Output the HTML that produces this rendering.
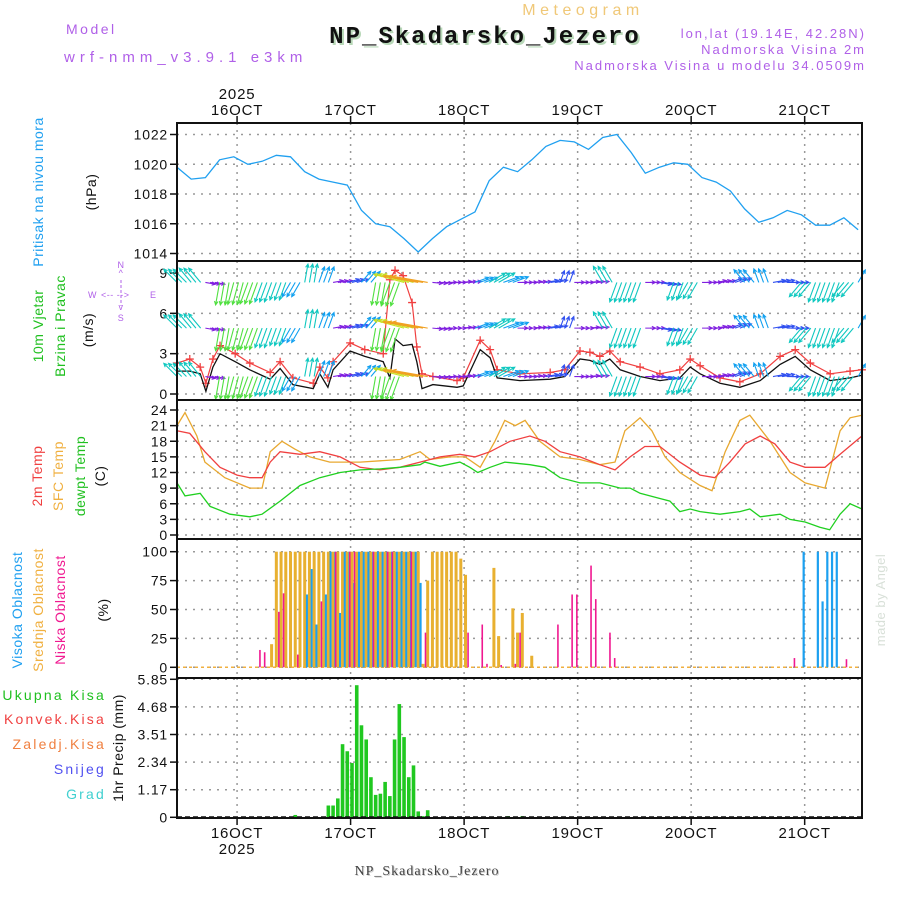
<!DOCTYPE html>
<html><head><meta charset="utf-8"><style>
html,body{margin:0;padding:0;background:#fff;}
svg{display:block;font-family:"Liberation Sans",sans-serif;}
</style></head><body>
<svg id="chart" xmlns="http://www.w3.org/2000/svg" width="900" height="900" viewBox="0 0 900 900">
<rect width="900" height="900" fill="#fff"/>
<g>
<text x="583" y="15" font-size="16" fill="#f0c878" text-anchor="middle" letter-spacing="4.5">Meteogram</text>
<text x="487" y="45" font-size="24" font-weight="bold" font-family="Liberation Mono,monospace" fill="#b8d8b8" text-anchor="middle" letter-spacing="2">NP_Skadarsko_Jezero</text>
<text x="485" y="43" font-size="24" font-weight="bold" font-family="Liberation Mono,monospace" fill="#111" text-anchor="middle" letter-spacing="2">NP_Skadarsko_Jezero</text>
<text x="66" y="34" font-size="14" fill="#b060e8" letter-spacing="2.5">Model</text>
<text x="64" y="62" font-size="15" fill="#b060e8" letter-spacing="5">wrf-nmm_v3.9.1 e3km</text>
<text x="866" y="38" font-size="13" fill="#b060e8" text-anchor="end" letter-spacing="2">lon,lat (19.14E, 42.28N)</text>
<text x="866" y="54" font-size="13" fill="#b060e8" text-anchor="end" letter-spacing="2">Nadmorska Visina 2m</text>
<text x="866" y="70" font-size="13" fill="#b060e8" text-anchor="end" letter-spacing="2">Nadmorska Visina u modelu 34.0509m</text>
</g>
<g font-size="14" letter-spacing="0.5">
<text transform="translate(43,192) rotate(-90)" text-anchor="middle" fill="#20a0f0">Pritisak na nivou mora</text>
<text transform="translate(96,192) rotate(-90)" text-anchor="middle" fill="#111">(hPa)</text>
<text transform="translate(43,326) rotate(-90)" text-anchor="middle" fill="#20c020">10m Vjetar</text>
<text transform="translate(65,326) rotate(-90)" text-anchor="middle" fill="#20c020">Brzina i Pravac</text>
<text transform="translate(93,330) rotate(-90)" text-anchor="middle" fill="#111">(m/s)</text>
<g fill="#b060e8" font-size="9">
<text x="121" y="268" text-anchor="middle">N</text><text x="121" y="276" text-anchor="middle">^</text>
<text x="88" y="298">W</text><text x="101" y="298">&lt;-- --&gt;</text><text x="150" y="298">E</text>
<text x="121" y="310" text-anchor="middle">v</text><text x="121" y="321" text-anchor="middle">S</text>
<line x1="121" y1="280" x2="121" y2="306" stroke="#b060e8" stroke-dasharray="3,2"/>
</g>
<text transform="translate(42,476) rotate(-90)" text-anchor="middle" fill="#f04040">2m Temp</text>
<text transform="translate(63,476) rotate(-90)" text-anchor="middle" fill="#f0b040">SFC Temp</text>
<text transform="translate(85,476) rotate(-90)" text-anchor="middle" fill="#20c020">dewpt Temp</text>
<text transform="translate(105,476) rotate(-90)" text-anchor="middle" fill="#111">(C)</text>
<text transform="translate(22,610) rotate(-90)" text-anchor="middle" fill="#20a0f0">Visoka Oblacnost</text>
<text transform="translate(43,610) rotate(-90)" text-anchor="middle" fill="#f0b040">Srednja Oblacnost</text>
<text transform="translate(65,610) rotate(-90)" text-anchor="middle" fill="#f01890">Niska Oblacnost</text>
<text transform="translate(108,610) rotate(-90)" text-anchor="middle" fill="#111">(%)</text>
<g letter-spacing="2.2">
<text x="106" y="700" text-anchor="end" fill="#20c020">Ukupna  Kisa</text>
<text x="106" y="724" text-anchor="end" fill="#f04040">Konvek.Kisa</text>
<text x="106" y="749" text-anchor="end" fill="#f08040">Zaledj.Kisa</text>
<text x="106" y="774" text-anchor="end" fill="#5050f0">Snijeg</text>
<text x="106" y="799" text-anchor="end" fill="#40d0d0">Grad</text>
</g>
<text transform="translate(123,748) rotate(-90)" text-anchor="middle" fill="#111">1hr Precip (mm)</text>
<text transform="translate(885,600) rotate(-90)" text-anchor="middle" fill="#d8e0d8" font-size="13">made by Angel</text>
</g>
<text x="428" y="876" font-size="14" font-family="Liberation Serif,serif" fill="#ccc" text-anchor="middle" letter-spacing="1">NP_Skadarsko_Jezero</text>
<text x="427" y="875" font-size="14" font-family="Liberation Serif,serif" fill="#444" text-anchor="middle" letter-spacing="1">NP_Skadarsko_Jezero</text>
<g id="plots"></g>
</svg>
<script>
// ---- data ----
const dayLabels = ["16OCT","17OCT","18OCT","19OCT","20OCT","21OCT"];
const dayHours = [12.7,36.7,60.7,84.7,108.7,132.7];
const presHours = [0,3,6,9,12,15,18,21,24,27,30,33,36,39,42,45,48,51,54,57,60,63,66,69,72,75,78,81,84,87,90,93,96,99,102,105,108,111,114,117,120,123,126,129,132,135,138,141,144];
const presVals = [1019.8,1019.0,1019.1,1020.3,1020.5,1020.0,1020.2,1020.6,1020.5,1019.5,1019.0,1018.8,1018.6,1016.9,1016.0,1015.8,1015.0,1014.1,1015.0,1015.8,1016.3,1016.8,1018.9,1019.8,1019.5,1020.3,1021.2,1021.6,1021.5,1021.0,1021.8,1022.0,1020.8,1019.4,1019.8,1020.1,1020.0,1019.1,1018.8,1018.2,1017.0,1016.1,1016.4,1016.9,1016.6,1015.9,1015.9,1016.4,1015.6];
const presTicks = [1014,1016,1018,1020,1022];
const windDir = [315,320,100,190,195,200,200,200,210,10,20,80,75,40,190,200,285,280,95,90,85,70,60,70,90,85,80,20,90,85,330,200,200,90,100,200,210,90,80,70,320,340,80,90,220,200,200,220,30];
const windSpdCls = [3,3,1,4,4,4,3.5,3,2.5,3,2.5,1,1.5,2,4,4.5,6,7,1,1,1.2,2,3,2.5,1,1,1.5,1.5,1,1.2,3,3.5,3.5,1,1.5,3,3,1,1,1.5,2.5,2,1.5,1.5,3,3.5,3.5,3,2];
const windRows = [8.3,4.9,1.3];
const spdHours = [0,2.7,4.9,6.1,7.6,9.1,12.3,15.4,19.7,21.8,24.5,28.8,30.2,31.9,33,36.6,39.7,43.6,45,46.1,47.8,49.7,50.7,51.8,54.1,59.2,60.5,64.1,66.2,67.7,72.5,78.9,82,85.2,87.3,89.4,91.5,93.7,97.9,102.1,106.3,108.5,110.6,114.8,119,123.3,127.5,130.7,133.9,138.1,142.3,144.8];
const spdVals = [1.7,1.7,1.5,0.2,2.0,3.0,2.4,1.8,1.1,1.9,0.7,0.4,1.5,0.5,1.8,3.2,2.8,2.4,1.2,4.1,3.6,3.7,2.4,0.4,0.7,0.5,0.6,3.3,2.7,1.2,1.0,1.1,1.3,2.6,2.5,2.2,2.6,1.8,1.3,1.0,1.2,2.0,1.5,0.8,0.5,1.0,2.2,2.8,1.8,1.0,1.2,1.4];
const gustVals = [2.3,2.6,2.0,0.8,2.6,3.6,3.0,2.3,1.6,2.4,1.2,0.8,2.0,1.2,2.4,3.8,3.3,3.0,8.5,9.2,8.8,6.8,3.5,1.5,1.3,1.0,1.2,4.0,3.3,1.8,1.5,1.6,1.8,3.2,3.1,2.8,3.2,2.4,2.0,1.5,1.8,2.6,2.1,1.2,0.9,1.5,2.8,3.3,2.3,1.5,1.7,1.8];
const windTicks = [0,3,6,9];
const t2Hours = [0,2.7,5.9,9.1,12.7,15.4,18,19.7,21.8,26,30.2,34.5,38.7,42.9,47.1,51.4,55.6,59.8,63,66.2,70.4,74.6,77.8,81,85.2,89.4,92.6,95.8,98.9,102.1,106.3,110.6,113.7,116.9,120.1,123.3,126.4,129.6,132.8,137,140.2,144.8];
const t2Vals = [20,19.5,16,13,11.5,11,11,14,16,15.5,16,15,13,12.5,13,14,15,15.5,15,16,18,19,18,16,15,13.5,12.5,15,17,17,14,11.5,11,14,17.5,19,17.5,14,13,13,15.5,19];
const sfcHours = [0,1.7,4.2,5.9,10.1,15.4,18,19.7,22.2,24.9,28.1,32.3,38.7,47.1,51.4,53.5,57.7,60.9,64.1,67.2,69.3,71.5,73.6,76.7,81,85.2,89.4,92.6,94.7,97.9,100.4,103.2,106.3,110.6,113.1,115.9,119,121.1,125.4,129.6,132.8,137,140.2,142.3,144.8];
const sfcVals = [21,23.5,19,14,11,9,9,16,18,16.5,15,14,14,14.5,16,14.5,15,15,13,18,22,21,22,18,15,14.5,13.5,14,20,22.5,20,15,12,9.5,8.5,16,22,23,18,12,10,9,20,22.5,23];
const dewHours = [0,1.7,4.9,7,11.2,15.4,18,21.8,26,30.2,34.5,38.7,42.9,47.1,51.4,52.4,55.6,59.8,61.9,63.6,66.2,69.3,74.6,77.8,81,85.2,89.4,93.7,95.8,97.9,102.1,104.2,106.3,108.5,110.6,114.8,119,121.1,123.3,127.5,129.6,132.8,135.9,138,140.2,142.3,144.8];
const dewVals = [10,7.5,8,5.5,4,3.5,4,6.5,9.5,11,12,12.5,12.7,13,13.5,14,13.2,14,13,12,13,14,13.5,13,11,10,10,9,9,8,7,6.5,4.5,5,4.5,4,4.5,5,3.5,4,3,2.5,1.5,1,4,6,5];
const tempTicks = [0,3,6,9,12,15,18,21,24];
const cloudHigh = [0,0,0,0,0,0,0,0,0,0, 0,0,0,0,0,0,0,0,0,0, 0,0,0,0,0,0,0,63,85,37, 0,63,100,100,47,100,100,73,100,100, 100,100,100,100,100,100,100,100,100,100, 100,73,0,0,0,0,0,0,0,0, 0,0,0,0,0,0,0,0,0,0, 0,0,0,0,0,0,0,0,0,0, 0,0,0,0,0,0,0,0,0,0, 0,0,0,0,0,0,0,0,0,0, 0,0,0,0,0,0,0,0,0,0, 0,0,0,0,0,0,0,0,0,0, 0,0,0,0,0,0,0,0,0,0, 0,0,100,0,0,100,57,100,100,100, 0,0,0,0,0];
const cloudMid = [0,0,0,0,0,0,0,0,0,0, 0,0,0,0,0,0,0,0,0,0, 20,100,100,100,100,100,100,100,100,100, 100,100,100,100,100,100,100,100,100,100, 100,100,100,100,100,100,100,100,100,100, 100,100,3,75,100,100,100,100,100,100, 94,80,0,0,0,0,0,86,27,0, 0,51,30,47,0,10,0,0,0,0, 0,0,0,0,0,0,0,0,0,0, 0,0,0,0,0,0,0,0,0,0, 0,0,0,0,0,0,0,0,0,0, 0,0,0,0,0,0,0,0,0,0, 0,0,0,0,0,0,0,0,0,0, 0,0,0,0,0,0,0,0,0,0, 0,0,0,0,0];
const cloudLow = [0,0,0,0,0,0,0,0,0,0, 0,0,0,0,0,0,0,0,15,13, 0,0,48,64,0,0,11,0,0,0, 0,57,0,0,100,0,0,100,100,0, 0,0,100,0,0,100,100,0,0,0, 100,0,0,30,0,0,0,0,0,0, 0,0,30,0,0,37,3,0,0,2, 0,0,3,30,0,0,0,0,0,0, 0,37,0,0,63,63,0,0,88,59, 0,0,30,8,0,0,0,0,0,0, 0,0,0,0,0,0,0,0,0,0, 0,0,0,0,0,0,0,0,0,0, 0,0,0,0,0,0,0,0,0,0, 0,8,0,0,0,0,0,0,0,0, 0,0,7,0,0];
const cloudTicks = [0,25,50,75,100];
const precipTotal = [0,0,0,0,0,0,0,0,0,0, 0,0,0,0,0,0,0,0,0,0, 0,0,0,0,0,0.1,0,0,0,0, 0,0,0.5,0.5,0.8,3.1,2.8,2.3,5.6,3.9, 3.3,1.7,0.95,1.0,1.5,0.9,3.3,4.8,3.4,1.7, 2.2,0.25,0.05,0.3,0,0,0,0,0,0, 0,0,0,0,0,0,0,0,0,0, 0.05,0,0,0.05,0,0,0,0,0,0, 0,0,0,0,0,0,0,0,0,0, 0,0,0,0,0,0,0,0,0,0, 0,0,0,0,0,0,0,0,0,0, 0,0,0,0,0,0,0,0,0,0, 0,0,0,0,0,0,0,0,0,0, 0,0,0,0,0,0,0,0,0,0, 0,0,0,0,0];
const precipTicks = [0,1.17,2.34,3.51,4.68,5.85];

// ---- layout ----
const NS = "http://www.w3.org/2000/svg";
const L = 177, R = 862, PXH = 4.73;
const root = document.getElementById("plots");
const xs = h => L + h * PXH;
function lin(d0, d1, r0, r1) { return v => r0 + (v - d0) * (r1 - r0) / (d1 - d0); }
const yP = lin(1014, 1022, 253.5, 134.5);
const yW = lin(0, 9, 394, 273);
const yT = lin(0, 24, 535, 410);
const yC = lin(0, 100, 667.3, 551.7);
const yR = lin(0, 5.85, 817.3, 679.3);
const panels = [[123, 261], [261, 400], [400, 539], [539, 678], [678, 818]];
function mk(tag, attrs, parent) {
  const e = document.createElementNS(NS, tag);
  for (const k in attrs) e.setAttribute(k, attrs[k]);
  (parent || root).appendChild(e);
  return e;
}
function txt(x, y, s, size, anchor) {
  const t = mk("text", { x: x, y: y, "font-size": size, "text-anchor": anchor, fill: "#111", "letter-spacing": "0.8" });
  t.textContent = s;
  return t;
}
panels.forEach((p, i) => {
  dayHours.forEach(h => {
    const g = mk("line", { x1: xs(h), x2: xs(h), y1: p[0], y2: p[1], stroke: "#999", "stroke-dasharray": "2,5", "stroke-width": 1.5 });
    
    
  });
});
function hgrid(ticks, ys, fmt, name) {
  ticks.forEach(v => {
    const g = mk("line", { x1: L, x2: R, y1: ys(v), y2: ys(v), stroke: "#999", "stroke-dasharray": "2,6", "stroke-width": 1.5 });
    
    
    const tk = mk("line", { x1: L - 7, x2: L, y1: ys(v), y2: ys(v), stroke: "#111", "stroke-width": 1.5 });
    
    
    const t = txt(L - 9, ys(v) + 5, fmt(v), 14, "end");
    
    
  });
}
hgrid(presTicks, yP, v => String(v), "pressure");
hgrid(windTicks, yW, v => String(v), "wind");
hgrid(tempTicks, yT, v => String(v), "temp");
hgrid(cloudTicks, yC, v => String(v), "cloud");
hgrid(precipTicks, yR, v => v === 0 ? "0" : v.toFixed(2), "precip");

function poly(hours, vals, ys, color, name, w) {
  const pts = hours.map((h, i) => xs(h).toFixed(1) + "," + ys(vals[i]).toFixed(1)).join(" ");
  const p = mk("polyline", { points: pts, fill: "none", stroke: color, "stroke-width": w || 1.3 });
  
  
  return p;
}
poly(presHours, presVals, yP, "#20a0f0", "pressure-line");
poly(spdHours, gustVals, yW, "#f04040", "gust-line", 1.2);
spdHours.forEach((h, i) => {
  const x = xs(h), y = yW(gustVals[i]);
  const c = mk("path", { d: `M${x - 4},${y}H${x + 4}M${x},${y - 4}V${y + 4}`, stroke: "#f04040", "stroke-width": 1.3 });
  
  
});
poly(spdHours, spdVals, yW, "#111", "wind-speed-line", 1.3);
function spdColor(s) {
  if (s < 1.3) return "#8020e0";
  if (s < 2) return "#3050f0";
  if (s < 3) return "#10a0f0";
  if (s < 4) return "#10c8c0";
  if (s < 5) return "#50e040";
  if (s < 6.5) return "#c8e020";
  return "#f0a020";
}
windRows.forEach((lvl, r) => {
  for (let h = 0; h <= 144; h++) {
    const k = Math.min(windDir.length - 1, Math.floor(h / 3));
    const d = windDir[k] * Math.PI / 180, s = windSpdCls[k];
    const len = 6 + s * 4.2;
    const x0 = xs(h), y0 = yW(lvl);
    const x1 = x0 + Math.sin(d) * len, y1 = y0 - Math.cos(d) * len;
    const a1 = d + Math.PI - 0.45, a2 = d + Math.PI + 0.45;
    const path = `M${x0},${y0}L${x1},${y1}M${x1 + Math.sin(a1) * 4},${y1 - Math.cos(a1) * 4}L${x1},${y1}L${x1 + Math.sin(a2) * 4},${y1 - Math.cos(a2) * 4}`;
    const a = mk("path", { d: path, stroke: spdColor(s), "stroke-width": 1.1, fill: "none" });
    
    
  }
});
poly(sfcHours, sfcVals, yT, "#e8a830", "sfc-temp-line");
poly(t2Hours, t2Vals, yT, "#f04040", "t2m-line");
poly(dewHours, dewVals, yT, "#20d020", "dewpoint-line");
const cb = mk("line", { x1: L, x2: R, y1: yC(0), y2: yC(0), stroke: "#f0b040", "stroke-dasharray": "3,3", "stroke-width": 1.5 });


for (let h = 0; h < cloudMid.length; h++) {
  const x = xs(h);
  if (cloudMid[h] > 0) {
    const b = mk("rect", { x: x - 1.5, y: yC(cloudMid[h]), width: 3, height: yC(0) - yC(cloudMid[h]), fill: "#e8b030" });
    
    
  }
  if (cloudHigh[h] > 0) {
    const b = mk("rect", { x: x + 1.2, y: yC(cloudHigh[h]), width: 2.2, height: yC(0) - yC(cloudHigh[h]), fill: "#1ca0f0" });
    
    
  }
  if (cloudLow[h] > 0) {
    const b = mk("rect", { x: x - 3, y: yC(cloudLow[h]), width: 1.6, height: yC(0) - yC(cloudLow[h]), fill: "#f01890" });
    
    
  }
}
for (let h = 0; h < precipTotal.length; h++) {
  if (precipTotal[h] > 0) {
    const b = mk("rect", { x: xs(h) - 1.8, y: yR(precipTotal[h]), width: 3.6, height: yR(0) - yR(precipTotal[h]), fill: "#20c820" });
    
    
  }
}
const pb = mk("line", { x1: L, x2: R, y1: yR(0), y2: yR(0), stroke: "#111", "stroke-dasharray": "5,3", "stroke-width": 2 });


panels.forEach(p => {
  const f = mk("rect", { x: L, y: p[0], width: R - L, height: p[1] - p[0], fill: "none", stroke: "#111", "stroke-width": 2 });
  
  
});
dayHours.forEach((h, i) => {
  const x = xs(h);
  const t1 = mk("line", { x1: x, x2: x, y1: 116, y2: 123, stroke: "#111", "stroke-width": 1.5 });
  
  
  const lt = txt(x, 115, dayLabels[i], 15, "middle");
  
  
  const t2 = mk("line", { x1: x, x2: x, y1: 818, y2: 825, stroke: "#111", "stroke-width": 1.5 });
  
  
  const lb = txt(x, 838, dayLabels[i], 15, "middle");
  
  
});
const y1 = txt(xs(dayHours[0]), 99, "2025", 15, "middle");


const y2 = txt(xs(dayHours[0]), 854, "2025", 15, "middle");


</script>
</body></html>
